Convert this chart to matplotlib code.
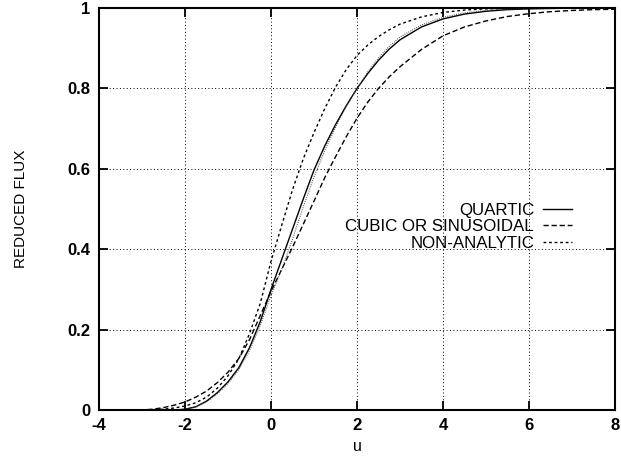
import matplotlib.pyplot as plt

u = [-4, -3.5, -3, -2.75, -2.5, -2.25, -2, -1.75, -1.5, -1.25, -1, -0.75, -0.5, -0.25,
     0, 0.25, 0.5, 0.75, 1, 1.25, 1.5, 1.75, 2, 2.25, 2.5, 2.75, 3, 3.5, 4, 4.5,
     5, 5.5, 6, 6.5, 7, 7.5, 8]

quartic = [0, 0, 0, 0, 0, 0, 0.002, 0.008, 0.022, 0.043, 0.07, 0.105, 0.155, 0.22,
           0.30, 0.375, 0.45, 0.525, 0.597, 0.657, 0.71, 0.757, 0.80, 0.837, 0.870, 0.898,
           0.921, 0.953, 0.973, 0.985, 0.992, 0.996, 0.998, 0.999, 1, 1, 1]

cubic = [0, 0, 0, 0.002, 0.006, 0.012, 0.02, 0.032, 0.047, 0.068, 0.094, 0.128, 0.175, 0.235,
         0.295, 0.35, 0.405, 0.462, 0.52, 0.578, 0.63, 0.68, 0.726, 0.766, 0.80, 0.829,
         0.854, 0.897, 0.931, 0.953, 0.968, 0.979, 0.986, 0.991, 0.994, 0.996, 0.997]

nonanalytic = [0, 0, 0, 0.001, 0.002, 0.005, 0.01, 0.018, 0.032, 0.054, 0.085, 0.127, 0.19, 0.265,
               0.37, 0.46, 0.548, 0.625, 0.69, 0.75, 0.803, 0.847, 0.882, 0.908, 0.929, 0.946,
               0.96, 0.978, 0.989, 0.995, 0.998, 0.999, 1, 1, 1, 1, 1]

# unlabelled fine dotted curve lying next to the quartic one
other = [0, 0, 0, 0, 0, 0, 0.002, 0.007, 0.02, 0.04, 0.066, 0.1, 0.148, 0.21,
         0.285, 0.35, 0.425, 0.505, 0.58, 0.645, 0.703, 0.755, 0.80, 0.841, 0.876, 0.905,
         0.928, 0.958, 0.977, 0.988, 0.994, 0.997, 0.999, 1, 1, 1, 1]

xticks = [-4, -2, 0, 2, 4, 6, 8]
yticks = [0, 0.2, 0.4, 0.6, 0.8, 1]
ylabels = ['0', '0.2', '0.4', '0.6', '0.8', '1']

plt.rcParams['font.family'] = ['Liberation Sans', 'DejaVu Sans']
plt.rcParams['axes.unicode_minus'] = False

fig = plt.figure(figsize=(6.21, 4.57), dpi=100)
ax = fig.add_axes([0.1594, 0.1028, 0.831, 0.8796])

ax.plot(u, quartic, color='black', lw=1.0, label='QUARTIC')
ax.plot(u, cubic, color='black', lw=1.0, dashes=(3.8, 2), label='CUBIC OR SINUSOIDAL')
ax.plot(u, nonanalytic, color='black', lw=1.0, dashes=(2, 2), label='NON-ANALYTIC')
ax.plot(u, other, color='#444444', lw=0.8, dashes=(0.8, 1.2))

ax.set_xlim(-4, 8)
ax.set_ylim(0, 1)
ax.set_xticks(xticks)
ax.set_yticks(yticks)
ax.set_yticklabels(ylabels)
ax.grid(True, color='black', lw=0.7, dashes=(1, 2.5))

ax.tick_params(direction='in', length=6.5, width=1.3, top=True, right=True,
               labelsize=12, pad=6)
for lab in ax.get_xticklabels() + ax.get_yticklabels():
    lab.set_fontweight('bold')
for s in ax.spines.values():
    s.set_linewidth(1.5)

ax.set_xlabel('u', fontsize=11.5, labelpad=4)
ax.set_ylabel('REDUCED FLUX', fontsize=11)
ax.yaxis.set_label_coords(-0.138, 0.5)

ax.legend(loc='upper right', bbox_to_anchor=(0.917, 0.515), frameon=False,
          markerfirst=False, fontsize=12.2, handlelength=1.7, handletextpad=0.55,
          borderpad=0, borderaxespad=0, labelspacing=0.08)

fig.savefig('out.png', dpi=100)
